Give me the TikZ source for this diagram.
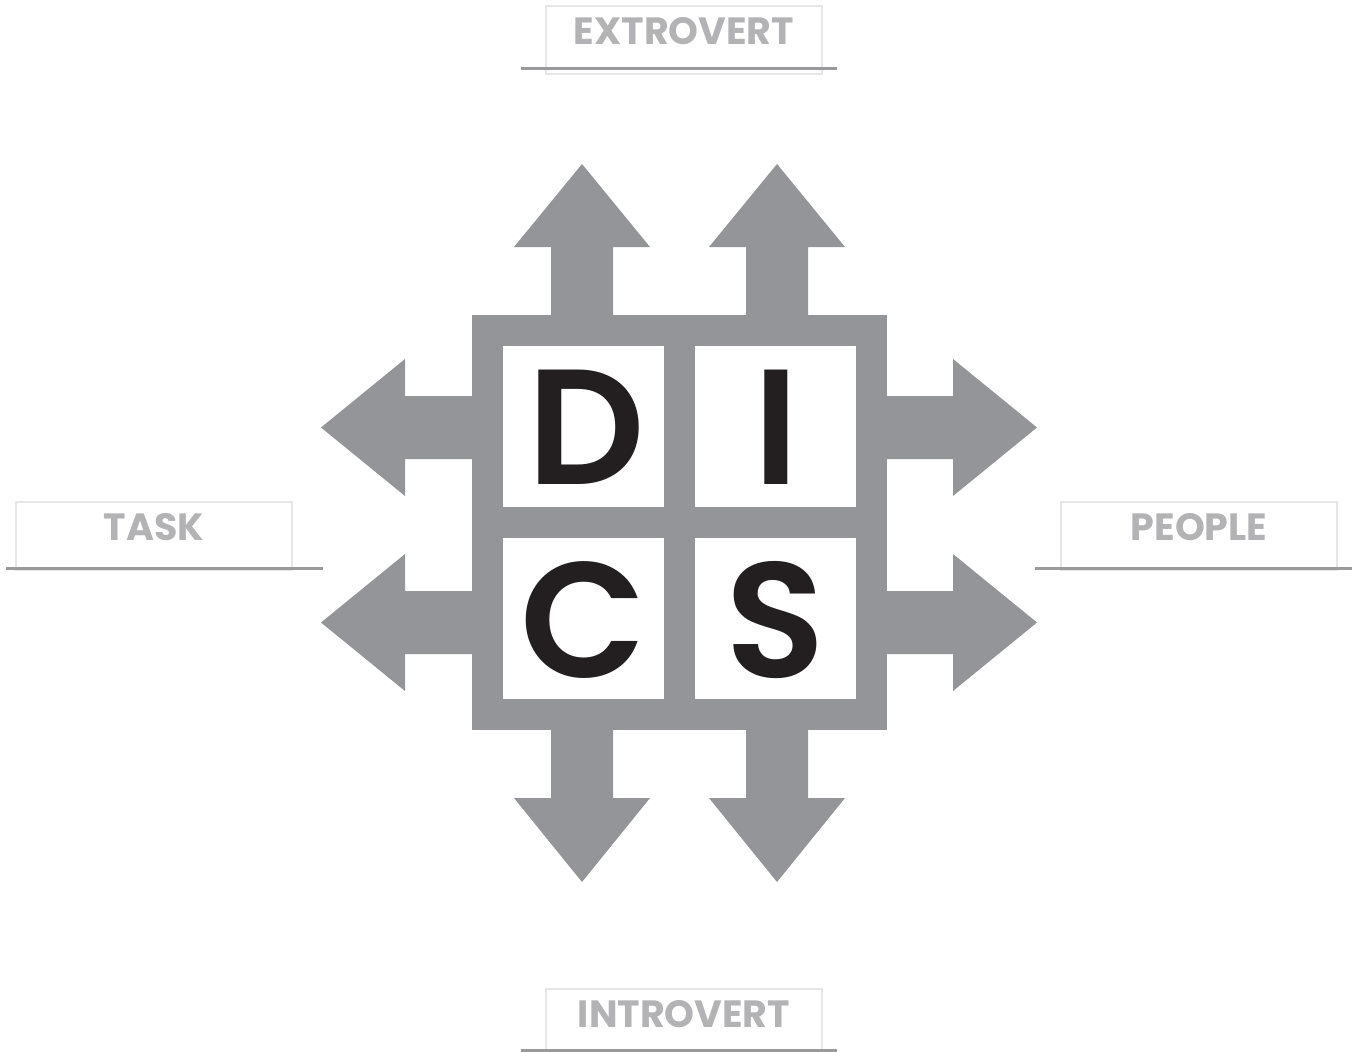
\documentclass[tikz,border=0pt]{standalone}
\usepackage{fontspec}
\newfontfamily\pop{Poppins}
\newfontfamily\popsb{Poppins SemiBold}
\definecolor{discgray}{HTML}{939598}
\definecolor{labgray}{HTML}{B3B3B5}
\definecolor{boxgray}{HTML}{E6E6E6}
\definecolor{linegray}{HTML}{9A9A9C}
\definecolor{ink}{HTML}{231F20}
\tikzset{
  cell/.style={fill=white, draw=none, minimum width=161pt, minimum height=161pt, inner sep=0pt},
  letter/.style={text=ink, inner sep=0pt, font=\popsb\fontsize{164}{164}\selectfont},
  labbox/.style={draw=boxgray, line width=2pt, fill=none, minimum width=276pt, minimum height=68pt, inner sep=0pt},
  labtext/.style={text=labgray, inner sep=0pt, font=\pop\bfseries\fontsize{38}{38}\selectfont},
  baseline/.style={draw=linegray, line width=3pt},
  arrowfill/.style={fill=discgray, draw=none}
}
\begin{document}
\begin{tikzpicture}[x=1pt,y=-1pt]
\useasboundingbox (0,0) rectangle (1352,1052);
% arrows up
\foreach \c in {582,777}{
  \fill[arrowfill] (\c-31,316) -- (\c-31,247) -- (\c-68,247) -- (\c,164) -- (\c+68,247) -- (\c+31,247) -- (\c+31,316) -- cycle;
  \fill[arrowfill] (\c-31,729) -- (\c-31,798) -- (\c-68,798) -- (\c,882) -- (\c+68,798) -- (\c+31,798) -- (\c+31,729) -- cycle;
}
\foreach \r in {427.5,622.5}{
  \fill[arrowfill] (473,\r-31.5) -- (405,\r-31.5) -- (405,\r-68.5) -- (321,\r) -- (405,\r+68.5) -- (405,\r+31.5) -- (473,\r+31.5) -- cycle;
  \fill[arrowfill] (886,\r-31.5) -- (953,\r-31.5) -- (953,\r-68.5) -- (1037,\r) -- (953,\r+68.5) -- (953,\r+31.5) -- (886,\r+31.5) -- cycle;
}
% frame
\node[fill=discgray, minimum width=415pt, minimum height=415pt, inner sep=0pt] (frame) at (679.5,522.5) {};
\node[cell] (cd) at (583.5,426.5) {};
\node[cell] (ci) at (775.5,426.5) {};
\node[cell] (cc) at (583.5,618.5) {};
\node[cell] (cs) at (775.5,618.5) {};
\node[letter] (ld) at (586,427.5) {D};
\node[letter] (li) at (776,427.5) {I};
\node[letter] (lc) at (583,620) {C};
\node[letter] (ls) at (775.5,620) {S};
% labels
\node[labbox] (bext) at (684,40) {};
\draw[baseline] (521,68) -- (837,68);
\node[labtext] (text) at (684,31) {EXTROVERT};
\node[labbox] (btask) at (154,536) {};
\draw[baseline] (6,568) -- (323,568);
\node[labtext] (ttask) at (154,527) {TASK};
\node[labbox] (bpeo) at (1199,536) {};
\draw[baseline] (1035,568) -- (1352,568);
\node[labtext] (tpeo) at (1199,527) {PEOPLE};
\node[labbox] (bint) at (684,1023) {};
\draw[baseline] (521,1050) -- (837,1050);
\node[labtext] (tint) at (684,1014) {INTROVERT};
\end{tikzpicture}
\end{document}
